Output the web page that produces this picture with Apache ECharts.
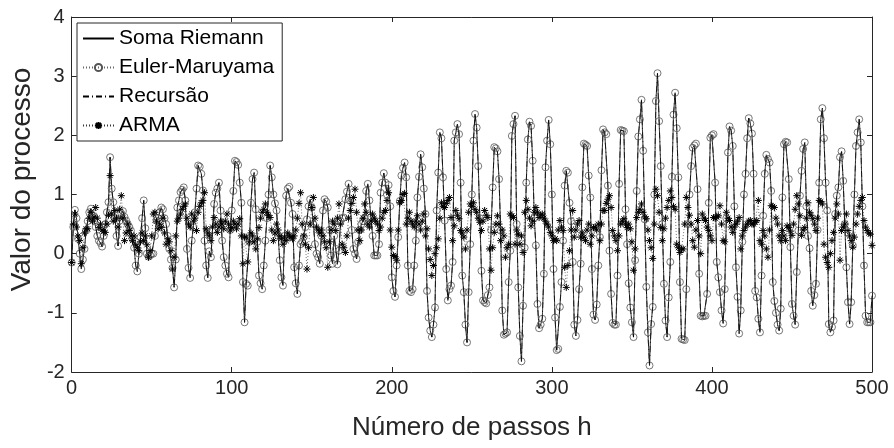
<!DOCTYPE html>
<html>
<head>
<meta charset="utf-8">
<script src="https://cdn.jsdelivr.net/npm/echarts@6/dist/echarts.min.js"></script>
<style>
html,body{margin:0;padding:0;background:#fff;}
#chart{width:894px;height:448px;}
</style>
</head>
<body>
<div id="chart"></div>
<script>
// Step labels for x axis ticks
var xTicks = [0, 100, 200, 300, 400, 500];
var yTicks = [-2, -1, 0, 1, 2, 3, 4];
var seriesNames = ['Soma Riemann', 'Euler-Maruyama', 'Recursão', 'ARMA'];

// Process values (Soma Riemann / Euler-Maruyama / Recursão nearly coincide), steps 0..500
var processo = [
-0.15,0.45,0.74,0.6,0.25,0.0,-0.26,-0.1,0.08,0.39,
0.55,0.7,0.76,0.65,0.56,0.45,0.3,0.22,0.18,0.12,
0.3,0.5,0.7,0.87,1.63,1.1,0.87,0.6,0.3,0.13,
0.56,0.68,0.72,0.62,0.56,0.5,0.45,0.39,0.25,0.1,
-0.2,-0.3,0.0,0.28,0.6,0.9,0.43,0.0,-0.05,-0.03,
0.0,0.0,0.3,0.56,0.6,0.7,0.78,0.75,0.6,0.5,
0.3,0.08,-0.1,-0.24,-0.57,-0.1,0.78,0.9,1.04,1.08,
1.12,0.9,0.08,-0.24,-0.41,0.22,0.45,0.7,1.1,1.49,
1.47,1.35,1.07,0.22,-0.2,-0.41,0.04,-0.06,0.4,0.84,
1.03,1.1,1.2,0.73,0.22,-0.06,-0.2,-0.34,-0.4,0.4,
0.73,1.06,1.57,1.55,1.5,1.2,0.86,-0.48,-1.16,-0.51,
-0.54,0.2,0.86,1.26,1.37,0.75,0.2,-0.37,-0.5,-0.6,
-0.2,0.22,0.6,1.0,1.49,1.29,1.0,0.85,0.73,0.3,
-0.11,-0.4,-0.54,0.3,0.98,1.1,1.13,0.86,0.67,-0.23,
-0.5,-0.68,-0.2,0.16,0.2,0.28,0.45,0.58,0.8,0.92,
0.78,0.5,0.16,0.0,-0.06,-0.17,0.3,0.73,0.92,0.88,
0.78,0.4,-0.03,-0.17,0.3,0.08,-0.18,0.05,0.55,0.6,
0.61,0.92,1.05,1.18,0.89,0.4,0.08,0.0,-0.09,0.2,
0.4,0.5,0.55,0.61,1.06,1.18,0.9,0.61,0.3,-0.03,
-0.03,-0.03,0.16,1.03,1.2,1.36,1.2,1.0,1.16,0.8,
-0.4,-0.63,-0.73,-0.2,0.28,0.89,1.32,1.45,1.54,1.29,
-0.2,-0.63,-0.65,-0.6,-0.2,0.22,0.95,1.3,1.68,1.46,
1.1,0.67,-0.63,-1.08,-1.3,-1.41,-1.2,-0.91,0.73,1.37,
2.05,1.95,1.29,0.56,-0.26,-0.79,-0.6,-0.54,-0.14,1.91,
2.05,2.19,2.02,1.2,-0.37,-0.65,-1.2,-1.5,-0.65,0.16,
1.0,1.91,2.36,2.13,1.48,0.6,-0.29,-0.79,-0.82,-0.84,
-0.7,-0.57,0.4,1.12,1.8,1.78,1.73,1.26,0.39,-0.96,
-1.37,-1.35,-1.33,-0.48,0.05,1.99,2.19,2.33,0.5,-0.57,
-1.39,-1.82,-0.88,0.1,1.2,1.93,2.23,2.16,1.57,0.6,
0.14,-0.85,-1.26,-1.2,-1.1,-0.34,1.46,1.91,2.26,1.85,
1.0,-0.26,-1.08,-1.63,-1.61,-0.9,-0.48,0.22,1.15,1.4,
1.37,0.86,0.55,-0.14,-1.2,-1.39,-1.12,-0.6,-0.17,1.12,
1.86,1.84,1.82,1.32,0.95,-0.26,-1.03,-1.12,-0.86,-0.2,
0.28,1.41,2.1,2.05,2.02,1.15,0.05,-0.68,-1.17,-1.2,
-1.2,-0.37,1.18,2.09,2.08,2.07,0.75,0.16,-0.5,-0.91,
-1.16,-1.41,-0.11,1.06,1.98,2.27,2.6,1.74,0.58,-0.56,
-1.33,-1.89,-1.19,-0.9,1.0,2.58,3.05,2.24,1.48,0.5,
-0.51,-1.13,-1.41,-0.74,-0.14,1.3,2.35,2.72,2.12,1.29,
-0.48,-1.44,-1.45,-1.46,-0.6,0.5,1.0,1.48,1.79,1.83,
1.86,1.09,-0.34,-1.05,-1.06,-1.05,-1.05,-0.68,0.86,1.96,
2.0,2.02,1.2,-0.14,-0.4,-0.65,-0.96,-1.18,-0.6,0.6,
1.71,2.15,2.08,1.82,0.8,-0.23,-0.73,-1.35,-0.96,0.2,
1.0,1.35,1.95,2.29,2.2,2.03,1.35,-0.63,-0.74,-1.1,
-1.33,-0.37,0.64,1.35,1.67,1.6,1.54,1.06,-0.48,-0.8,
-1.0,-1.2,-1.3,-0.93,0.95,1.85,1.89,1.88,1.26,0.11,
-0.85,-1.05,-1.2,-0.31,0.39,0.98,1.4,1.77,1.88,0.8,
0.3,0.09,-0.63,-0.88,-0.7,-0.51,0.4,1.2,2.27,2.46,
1.95,1.2,0.73,-1.19,-1.33,-1.24,-1.13,0.67,0.98,1.12,
1.63,1.73,1.23,0.5,-0.23,-0.82,-1.19,-0.82,0.14,1.0,
1.82,2.05,2.27,1.88,0.8,-0.2,-1.05,-1.16,-1.16,-1.16,
-0.71
];

// ARMA values, steps 0..500
var arma = [
-0.15,0.5,0.67,0.45,0.3,0.22,-0.17,0.1,0.35,0.42,
0.42,0.6,0.7,0.55,0.62,0.78,0.6,0.44,0.5,0.4,
0.38,0.36,0.5,0.65,1.32,0.67,0.55,0.73,0.6,0.45,
0.75,0.98,0.6,0.22,0.35,0.5,0.39,0.3,0.22,0.3,
0.15,0.1,0.05,0.2,0.35,0.22,0.3,0.15,-0.06,0.05,
0.3,0.67,0.7,0.55,0.42,0.5,0.44,0.6,0.35,0.16,
0.25,0.2,0.05,-0.26,-0.06,0.3,0.55,0.6,0.67,0.75,
0.8,0.84,0.6,0.5,0.45,0.67,0.55,0.6,0.39,0.7,
0.8,0.86,0.9,1.03,0.42,0.35,0.3,0.22,0.45,0.61,
0.5,0.36,0.45,0.55,0.5,0.42,0.55,0.67,0.5,0.4,
0.44,0.55,0.5,0.42,0.5,0.59,0.3,-0.17,0.28,0.28,
-0.14,0.2,0.35,0.3,0.2,0.08,0.25,0.44,0.6,0.7,
0.75,0.84,0.7,0.65,0.61,0.4,0.22,0.35,0.5,0.4,
0.3,0.25,0.16,0.28,0.22,0.35,0.3,0.28,0.25,0.3,
0.4,0.6,0.85,1.03,0.5,0.3,0.16,-0.26,0.1,0.5,
0.78,0.95,0.6,0.45,0.4,0.35,0.4,0.3,0.2,0.1,
-0.23,0.2,0.4,0.55,0.5,0.39,0.6,0.84,0.5,0.16,
0.1,0.02,0.3,0.6,0.73,0.85,0.95,1.09,0.7,0.4,
0.22,0.4,0.6,0.84,0.7,0.5,0.45,0.55,0.67,0.6,
0.55,0.5,0.39,0.45,0.6,0.7,0.73,0.9,1.03,0.4,
0.11,-0.03,-0.05,-0.11,0.4,0.86,0.9,1.0,1.02,0.5,
0.6,0.7,0.55,0.5,0.45,0.55,0.64,0.5,0.4,0.55,
0.67,0.3,0.42,0.08,-0.1,-0.37,-0.2,0.0,0.1,0.25,
0.6,0.86,0.8,0.78,0.85,0.9,0.95,0.61,0.22,0.47,
0.73,0.65,0.59,0.39,0.35,0.28,0.08,0.4,0.7,0.84,
0.8,0.86,0.75,0.7,0.6,0.53,0.39,0.55,0.73,0.65,
0.61,0.08,-0.28,0.1,0.36,0.5,0.64,0.5,0.22,0.4,
0.3,-0.06,0.1,0.16,0.67,0.64,0.61,0.16,0.4,0.33,
0.16,0.3,0.02,0.7,0.9,0.75,0.6,0.47,0.55,0.7,
0.78,0.7,0.61,0.65,0.67,0.6,0.55,0.5,0.45,0.36,
0.3,0.22,0.25,0.22,0.4,0.56,0.45,0.39,-0.23,-0.57,
-0.2,0.05,0.4,0.73,0.28,0.4,0.5,0.56,0.28,0.35,
0.28,0.22,0.4,0.5,0.16,0.3,0.44,0.45,0.4,0.5,
0.22,0.5,0.73,0.73,0.85,0.92,0.98,0.78,0.39,0.3,
0.22,0.05,0.3,0.5,0.55,0.59,0.5,0.44,0.5,0.42,
0.2,-0.28,0.08,0.61,0.7,0.75,0.84,0.7,0.62,0.59,
0.4,0.22,0.1,-0.08,0.5,1.09,0.98,0.7,0.44,0.22,
0.42,0.6,0.78,0.9,1.06,0.95,0.8,0.75,0.16,0.1,
0.02,0.08,0.08,0.5,0.95,0.78,0.65,0.5,0.22,0.11,
0.4,0.56,0.3,0.0,0.67,0.6,0.56,0.45,0.39,0.3,
0.22,0.61,0.6,0.62,0.64,0.81,0.5,0.22,0.2,0.7,
0.6,0.56,0.45,0.36,0.45,0.5,0.55,0.61,0.08,0.3,
0.39,0.45,0.5,0.55,0.56,0.5,0.5,0.53,0.56,0.9,
0.22,0.16,0.39,0.3,0.08,-0.06,0.4,0.81,0.8,0.78,
0.6,0.5,0.3,0.22,0.39,0.3,0.22,0.47,0.44,0.38,
0.31,0.5,0.75,0.98,0.84,0.64,0.31,0.4,0.44,0.6,
0.86,0.7,0.65,0.59,0.5,0.39,0.6,0.9,0.88,0.84,
0.16,-0.06,-0.15,-0.23,0.0,0.22,0.36,0.6,0.84,0.67,
-0.11,0.39,0.45,0.5,0.67,0.39,0.3,0.22,0.11,0.28,
0.5,0.67,0.8,0.9,0.95,0.56,0.45,0.39,0.35,0.33,
0.14
];

function pairs(vals) {
  var out = [];
  for (var i = 0; i < vals.length; i++) out.push([i, vals[i]]);
  return out;
}

var FONT = 'Liberation Sans, Arial, sans-serif';
var AX = '#262626';
var starPath = 'path://M0,-5L0,5M-5,0L5,0M-3.6,-3.6L3.6,3.6M-3.6,3.6L3.6,-3.6';
var hidden = {color: 'rgba(0,0,0,0)', borderColor: 'rgba(0,0,0,0)', borderWidth: 0};

var chart = echarts.init(document.getElementById('chart'), null, {renderer: 'canvas'});
var tickCommon = {show: true, inside: true, length: 5, lineStyle: {color: AX, width: 1}};
chart.setOption({
  animation: false,
  backgroundColor: '#fff',
  grid: {left: 69, right: 22, top: 17, bottom: 76, containLabel: false},
  legend: {
    orient: 'vertical', left: 77, top: 23,
    backgroundColor: '#fff', borderColor: AX, borderWidth: 1,
    padding: [5, 8, 5, 5], itemGap: 8, itemWidth: 31, itemHeight: 9,
    textStyle: {fontFamily: FONT, fontSize: 21, color: '#000', lineHeight: 20},
    data: seriesNames
  },
  xAxis: [{
    type: 'value', min: xTicks[0], max: xTicks[xTicks.length - 1], interval: 100,
    name: 'Número de passos h', nameLocation: 'middle', nameGap: 43,
    nameTextStyle: {fontFamily: FONT, fontSize: 26, color: AX},
    axisLine: {show: true, onZero: false, lineStyle: {color: AX, width: 1}},
    axisTick: tickCommon,
    axisLabel: {fontFamily: FONT, fontSize: 20, color: AX, margin: 6},
    splitLine: {show: false}
  }, {
    type: 'value', position: 'top', min: 0, max: 500, interval: 100,
    axisLine: {show: true, onZero: false, lineStyle: {color: AX, width: 1}},
    axisTick: tickCommon, axisLabel: {show: false}, splitLine: {show: false}
  }],
  yAxis: [{
    type: 'value', min: yTicks[0], max: yTicks[yTicks.length - 1], interval: 1,
    name: 'Valor do processo', nameLocation: 'middle', nameGap: 33,
    nameTextStyle: {fontFamily: FONT, fontSize: 28, color: AX, padding: [0, 0, 0, 30]},
    axisLine: {show: true, onZero: false, lineStyle: {color: AX, width: 1}},
    axisTick: tickCommon,
    axisLabel: {fontFamily: FONT, fontSize: 20, color: AX, margin: 7},
    splitLine: {show: false}
  }, {
    type: 'value', position: 'right', min: -2, max: 4, interval: 1,
    axisLine: {show: true, onZero: false, lineStyle: {color: AX, width: 1}},
    axisTick: tickCommon, axisLabel: {show: false}, splitLine: {show: false}
  }],
  series: [
    {
      name: seriesNames[0], type: 'line', data: pairs(processo),
      symbol: 'none', lineStyle: {color: '#000', width: 0.8}, itemStyle: hidden, z: 2
    },
    {
      name: seriesNames[1], type: 'line', data: pairs(processo),
      symbol: 'circle', symbolSize: 7, showAllSymbol: true,
      lineStyle: {color: '#666', width: 0.7, type: [1, 2]},
      itemStyle: {color: 'rgba(255,255,255,0)', borderColor: '#555', borderWidth: 0.8}, z: 3
    },
    {
      name: seriesNames[2], type: 'line', data: pairs(processo),
      symbol: 'none', lineStyle: {color: '#000', width: 0.7, type: [6, 3, 1, 3]}, itemStyle: hidden, z: 4
    },
    {
      name: seriesNames[3], type: 'line', data: pairs(arma),
      symbol: starPath, symbolSize: 7, showAllSymbol: true,
      lineStyle: {color: '#333', width: 0.7, type: [1, 2]},
      itemStyle: {color: 'none', borderColor: '#000', borderWidth: 1}, z: 5
    }
  ]
});
</script>
</body>
</html>
